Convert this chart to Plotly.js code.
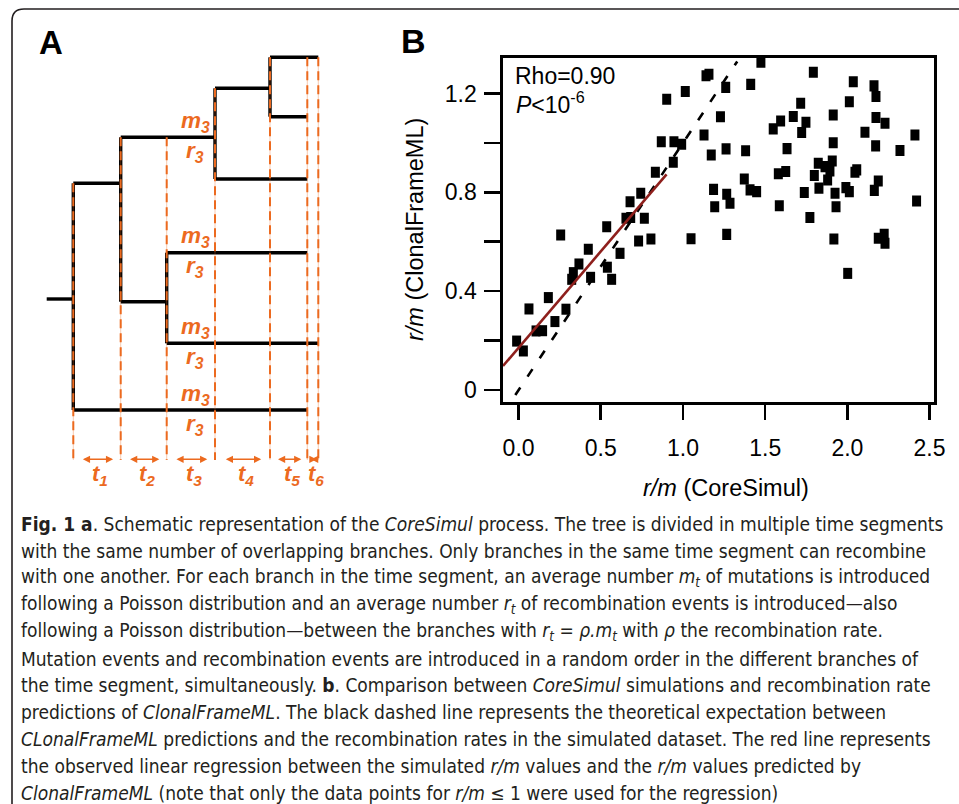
<!DOCTYPE html>
<html><head><meta charset="utf-8">
<script src="https://cdn.plot.ly/plotly-3.0.1.min.js"></script>
<style>html,body{margin:0;padding:0;background:#fff;} #chart{width:959px;height:804px;}</style>
</head><body><div id="chart"></div>
<script>
// ================= Panel B data =================
const simRM = [1.140,1.158,1.014,0.901,1.228,1.128,0.868,0.945,0.992,1.172,0.941,0.832,1.186,1.193,0.743,0.678,0.653,0.682,0.765,0.536,
 0.256,0.730,0.805,1.049,0.424,0.617,0.367,0.540,0.333,0.323,0.438,0.566,0.181,0.063,0.288,0.221,0.106,0.146,-0.012,0.029,
 1.474,1.793,2.036,2.162,2.174,1.260,1.412,1.716,2.012,1.914,2.174,2.229,1.671,1.594,1.549,1.748,1.722,2.107,2.411,1.914,
 1.262,1.381,1.633,2.172,2.320,1.823,1.864,1.908,1.894,1.580,1.625,1.799,1.880,2.057,2.046,2.188,2.164,1.373,1.408,1.448,
 1.266,1.286,1.738,1.827,1.925,1.991,2.012,1.931,1.586,1.772,2.421,1.266,1.918,2.188,2.224,2.229,2.002];
const cfmlRM = [1.272,1.278,1.208,1.177,1.106,1.032,1.005,1.005,0.995,0.951,0.922,0.881,0.812,0.742,0.796,0.762,0.695,0.698,0.695,0.661,
 0.627,0.603,0.611,0.612,0.570,0.553,0.510,0.497,0.475,0.448,0.456,0.448,0.374,0.328,0.327,0.277,0.239,0.240,0.198,0.158,
 1.327,1.286,1.248,1.231,1.188,1.225,1.237,1.161,1.167,1.113,1.103,1.080,1.107,1.089,1.057,1.084,1.042,1.043,1.032,1.001,
 0.976,0.968,0.977,0.988,0.969,0.918,0.904,0.927,0.887,0.875,0.884,0.868,0.850,0.891,0.881,0.846,0.808,0.854,0.810,0.803,
 0.792,0.756,0.799,0.817,0.796,0.819,0.803,0.742,0.746,0.698,0.765,0.630,0.611,0.614,0.630,0.594,0.472];
const idealX = [-0.02, 1.33];
const idealY = [-0.02, 1.33];
const regX = [-0.095, 0.90];
const regY = [0.097, 0.873];
const xTickVals = [0, 0.5, 1, 1.5, 2, 2.5];
const xTickText = ['0.0', '0.5', '1.0', '1.5', '2.0', '2.5'];
const yTickVals = [0, 0.2, 0.4, 0.6, 0.8, 1.0, 1.2];
const yTickText = ['0', ' ', '0.4', ' ', '0.8', ' ', '1.2'];
const statLines = ['Rho=0.90', '<i>P</i><10<sup>-6</sup>'];

// ================= Panel A schematic (tree) =================
const segTimes = [0, 4.74, 9.34, 14.17, 19.67, 23.4, 24.5];      // segment boundaries
const segLabels = ['1', '2', '3', '4', '5', '6'];
const rootStart = -2.66, rootY = 29.9;
const edgeFrom = [0, 0, 1, 1, 2, 2, 3, 3, 4, 4];
const edgeTo   = [1, 5, 3, 2, 5, 6, 4, 5, 6, 5];
const edgeY    = [18.33, 41.0, 13.73, 30.17, 25.27, 34.33, 8.83, 17.9, 5.73, 11.67];
const nodeIdx    = [0, 1, 2, 3, 4];
const nodeTop    = [18.33, 13.73, 25.27, 8.83, 5.73];
const nodeBottom = [41.0, 30.17, 34.33, 17.9, 11.67];
const guideTop   = [18.33, 13.73, 13.73, 8.83, 5.73, 5.73, 5.73];
const guideBottom = 46.0;
const labelSeg = 2;                                   // segment t3
const labelBranchY = [13.73, 25.27, 34.33, 41.0];
const mText = 'm', rText = 'r', subIdx = '3';

const captionLines = [
 '<b>Fig. 1 a</b>. Schematic representation of the <i>CoreSimul</i> process. The tree is divided in multiple time segments',
 'with the same number of overlapping branches. Only branches in the same time segment can recombine',
 'with one another. For each branch in the time segment, an average number <i>m<sub>t</sub></i> of mutations is introduced',
 'following a Poisson distribution and an average number <i>r<sub>t</sub></i> of recombination events is introduced—also',
 'following a Poisson distribution—between the branches with <i>r<sub>t</sub></i> = <i>ρ.m<sub>t</sub></i> with <i>ρ</i> the recombination rate.',
 'Mutation events and recombination events are introduced in a random order in the different branches of',
 'the time segment, simultaneously. <b>b</b>. Comparison between <i>CoreSimul</i> simulations and recombination rate',
 'predictions of <i>ClonalFrameML</i>. The black dashed line represents the theoretical expectation between',
 '<i>CLonalFrameML</i> predictions and the recombination rates in the simulated dataset. The red line represents',
 'the observed linear regression between the simulated <i>r/m</i> values and the <i>r/m</i> values predicted by',
 '<i>ClonalFrameML</i> (note that only the data points for <i>r/m</i> ≤ 1 were used for the regression)'
];

// ================= helpers =================
const W = 959, H = 804;
const px = v => v / W, py = v => 1 - v / H;
const ORANGE = '#EC6A1F', BLACK = '#000', RED = '#8E1F1C', TXT = '#231F20';
const ARIAL = 'Liberation Sans, Arial, Helvetica, sans-serif';
const CAPFONT = "'DejaVu Sans Condensed', 'Liberation Sans Narrow', 'Liberation Sans', sans-serif";

// fit the caption's first (longest) line to its width in the reference
function measureRich(html, family) {
  const c = document.createElement('canvas').getContext('2d');
  let w = 0;
  const parts = html.split(/(<\/?[bi]>)/);
  let bold = false, ital = false;
  parts.forEach(p => {
    if (p === '<b>') bold = true; else if (p === '</b>') bold = false;
    else if (p === '<i>') ital = true; else if (p === '</i>') ital = false;
    else if (p) {
      c.font = (ital ? 'italic ' : '') + (bold ? 'bold ' : '') + '100px ' + family;
      w += c.measureText(p.replace(/<[^>]+>/g, '')).width;
    }
  });
  return w;
}
const capSize = 100 * 923 / measureRich(captionLines[0], CAPFONT);

// tree traces
const hx = [], hy = [];
hx.push(rootStart, segTimes[0], null); hy.push(rootY, rootY, null);
edgeFrom.forEach((f, i) => { hx.push(segTimes[f], segTimes[edgeTo[i]], null); hy.push(edgeY[i], edgeY[i], null); });
const vx = [], vy = [];
nodeIdx.forEach((n, i) => { vx.push(segTimes[n], segTimes[n], null); vy.push(nodeTop[i], nodeBottom[i], null); });
const gx = [], gy = [];
segTimes.forEach((t, i) => { gx.push(t, t, null); gy.push(guideTop[i], guideBottom, null); });

const traces = [
  {x: hx, y: hy, xaxis: 'x2', yaxis: 'y2', mode: 'lines', line: {color: BLACK, width: 3.4}, hoverinfo: 'skip'},
  {x: vx, y: vy, xaxis: 'x2', yaxis: 'y2', mode: 'lines', line: {color: BLACK, width: 3.4}, hoverinfo: 'skip'},
  {x: gx, y: gy, xaxis: 'x2', yaxis: 'y2', mode: 'lines', line: {color: 'rgba(236,106,31,0.35)', width: 1}, hoverinfo: 'skip'},
  {x: gx, y: gy, xaxis: 'x2', yaxis: 'y2', mode: 'lines', line: {color: ORANGE, width: 2, dash: '9px,5px'}, hoverinfo: 'skip'},
  {x: idealX, y: idealY, mode: 'lines', line: {color: BLACK, width: 2.6, dash: '9px,13px'}, hoverinfo: 'skip'},
  {x: simRM, y: cfmlRM, mode: 'markers', marker: {symbol: 'line-ns', size: 7.9, color: BLACK, line: {color: BLACK, width: 9}}},
  {x: regX, y: regY, mode: 'lines', line: {color: RED, width: 2.6}, hoverinfo: 'skip'}
];

const annotations = [];
// segment arrows and labels
for (let i = 0; i < segTimes.length - 1; i++) {
  const a = segTimes[i], b = segTimes[i + 1], g = (b - a) * 0.16;
  annotations.push({xref: 'x2', yref: 'y2', axref: 'x2', ayref: 'y2', x: b - g, y: 45.93, ax: a + g, ay: 45.93,
    text: ' ', showarrow: true, arrowside: 'end+start', arrowhead: 2, arrowsize: 0.9, arrowwidth: 1.6, arrowcolor: ORANGE,
    standoff: 0, startstandoff: 0, font: {size: 4}});
  annotations.push({xref: 'x2', yref: 'y2', x: (a + b) / 2 + 0.3, y: 47.5, showarrow: false,
    text: '<b><i>t</i></b><sub><b><i>' + segLabels[i] + '</i></b></sub>', font: {family: ARIAL, size: 22, color: ORANGE}});
}
// m3 / r3 labels
labelBranchY.forEach(yb => {
  const xc = (segTimes[labelSeg] + segTimes[labelSeg + 1]) / 2 + 0.5;
  annotations.push({xref: 'x2', yref: 'y2', x: xc, y: yb - 1.55, showarrow: false,
    text: '<b><i>' + mText + '</i></b><sub><b><i>' + subIdx + '</i></b></sub>', font: {family: ARIAL, size: 22.5, color: ORANGE}});
  annotations.push({xref: 'x2', yref: 'y2', x: xc - 0.1, y: yb + 1.45, showarrow: false,
    text: '<b><i>' + rText + '</i></b><sub><b><i>' + subIdx + '</i></b></sub>', font: {family: ARIAL, size: 22.5, color: ORANGE}});
});
// panel letters
annotations.push({xref: 'paper', yref: 'paper', x: px(37), y: py(42), xanchor: 'left', yanchor: 'middle', showarrow: false,
  text: '<b>A</b>', font: {family: ARIAL, size: 33, color: BLACK}});
annotations.push({xref: 'paper', yref: 'paper', x: px(399), y: py(41), xanchor: 'left', yanchor: 'middle', showarrow: false,
  text: '<b>B</b>', font: {family: ARIAL, size: 34, color: BLACK}});
// stats
annotations.push({xref: 'paper', yref: 'paper', x: px(513), y: py(76), xanchor: 'left', yanchor: 'middle', showarrow: false,
  text: statLines[0], font: {family: ARIAL, size: 23, color: BLACK}});
annotations.push({xref: 'paper', yref: 'paper', x: px(514), y: py(103), xanchor: 'left', yanchor: 'middle', showarrow: false,
  text: statLines[1], font: {family: ARIAL, size: 23, color: BLACK}});
// axis titles
annotations.push({xref: 'paper', yref: 'paper', x: px(726), y: py(488), xanchor: 'center', yanchor: 'middle', showarrow: false,
  text: '<i>r/m</i> (CoreSimul)', font: {family: ARIAL, size: 23.5, color: BLACK}});
annotations.push({xref: 'paper', yref: 'paper', x: px(415), y: py(230), xanchor: 'center', yanchor: 'middle', showarrow: false,
  textangle: -90, text: '<i>r/m</i> (ClonalFrameML)', font: {family: ARIAL, size: 23.5, color: BLACK}});
// caption
captionLines.forEach((t, i) => {
  annotations.push({xref: 'paper', yref: 'paper', x: px(19), y: py(524 + i * 26.9), xanchor: 'left', yanchor: 'middle',
    showarrow: false, align: 'left', text: t, font: {family: CAPFONT, size: capSize, color: TXT}});
});

const shapes = [{
  type: 'path', xref: 'paper', yref: 'paper', layer: 'below',
  path: `M ${px(12)},${py(900)} V ${py(21)} Q ${px(12)},${py(9)} ${px(24)},${py(9)} H ${px(1000)}`,
  line: {color: TXT, width: 1.6}
}];

const axisCommon = {showgrid: false, zeroline: false, showline: true, linewidth: 2.6, linecolor: BLACK, mirror: true,
  ticks: 'outside', tickwidth: 2.6, tickcolor: BLACK, tickmode: 'array',
  tickfont: {family: ARIAL, size: 23, color: BLACK}, fixedrange: true};

const layout = {
  width: W, height: H, margin: {l: 0, r: 0, t: 0, b: 0, pad: 0},
  paper_bgcolor: '#fff', plot_bgcolor: 'rgba(0,0,0,0)', showlegend: false,
  xaxis: Object.assign({}, axisCommon, {domain: [px(503), px(934)], range: [-0.0949, 2.527], anchor: 'y',
    tickvals: xTickVals, ticktext: xTickText, ticklen: 15, ticklabelstandoff: 9}),
  yaxis: Object.assign({}, axisCommon, {domain: [py(402), py(57.7)], range: [-0.0486, 1.345], anchor: 'x',
    tickvals: yTickVals, ticktext: yTickText, ticklen: 16, ticklabelstandoff: 3}),
  xaxis2: {domain: [0, 1], range: [-7.33, 88.57], visible: false, anchor: 'y2', fixedrange: true},
  yaxis2: {domain: [0, 1], range: [80.4, 0], visible: false, anchor: 'x2', fixedrange: true},
  annotations: annotations, shapes: shapes
};

Plotly.newPlot('chart', traces, layout, {staticPlot: true, displayModeBar: false});
</script>
</body></html>
